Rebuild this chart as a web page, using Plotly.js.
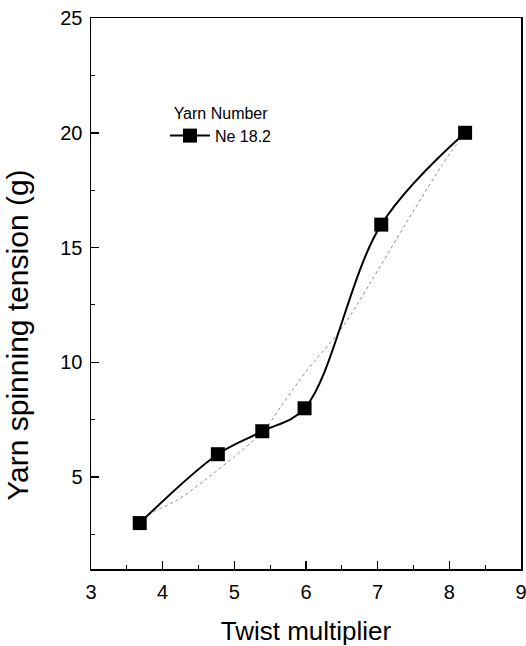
<!DOCTYPE html>
<html>
<head>
<meta charset="utf-8">
<script src="https://cdn.plot.ly/plotly-3.0.1.min.js"></script>
<style>html,body{margin:0;padding:0;background:#fff;}</style>
</head>
<body>
<div id="chart" style="width:526px;height:646px;"></div>
<script>
// Measured data (Ne 18.2)
const twistMultiplier = [3.68, 4.77, 5.39, 5.98, 7.05, 8.22];
const spinningTension = [3.0, 6.0, 7.0, 8.0, 16.0, 20.0];

// Dotted fitted curve
const fitX = [3.8, 4.2, 4.6, 5.0, 5.4, 5.7, 6.0, 6.5, 7.0, 7.5, 7.9, 8.1];
const fitY = [3.4, 4.0, 4.9, 5.9, 7.0, 8.3, 9.6, 11.5, 14.0, 16.6, 18.6, 19.5];

const seriesName = 'Ne 18.2';
const legendTitle = 'Yarn Number';
const xTitle = 'Twist multiplier';
const yTitle = 'Yarn spinning tension (g)';
const xTicks = [3, 4, 5, 6, 7, 8, 9];
const yTicks = [5, 10, 15, 20, 25];

const font = 'Liberation Sans, Arial, sans-serif';

const traces = [
  {
    x: fitX, y: fitY, mode: 'lines', showlegend: false, hoverinfo: 'skip',
    line: {color: '#8a8a8a', width: 1, dash: 'dot', shape: 'spline'}
  },
  {
    x: twistMultiplier, y: spinningTension, name: seriesName,
    mode: 'lines+markers',
    line: {color: '#000', width: 2, shape: 'spline', smoothing: 1},
    marker: {symbol: 'square', size: 14, color: '#000'}
  }
];

const axisCommon = {
  showgrid: false, zeroline: false, showline: true, mirror: true,
  linecolor: '#000', linewidth: 1.5,
  ticks: 'inside', ticklen: 8, tickwidth: 1.5, tickcolor: '#000',
  tickfont: {family: font, size: 20, color: '#000'},
  ticklabeloverflow: 'allow'
};

const layout = {
  width: 526, height: 646,
  margin: {l: 91, r: 5, t: 18, b: 77},
  paper_bgcolor: '#fff', plot_bgcolor: '#fff',
  font: {family: font, color: '#000'},
  xaxis: Object.assign({}, axisCommon, {
    range: [3, 9], tickvals: xTicks, ticklabelstandoff: 4,
    minor: {ticks: 'inside', ticklen: 4, tickwidth: 1, tickcolor: '#000', dtick: 0.5, tick0: 3},
    title: {text: xTitle, font: {family: font, size: 26, color: '#000'}, standoff: 20}
  }),
  yaxis: Object.assign({}, axisCommon, {
    range: [1, 25], tickvals: yTicks, ticklabelstandoff: 3,
    minor: {ticks: 'inside', ticklen: 4, tickwidth: 1, tickcolor: '#000', dtick: 2.5, tick0: 0}
  }),
  annotations: [{
    text: yTitle, textangle: -90, showarrow: false,
    xref: 'paper', yref: 'paper', x: -0.17, y: 0.425,
    xanchor: 'center', yanchor: 'middle',
    font: {family: font, size: 30, color: '#000'}
  }],
  showlegend: true,
  legend: {
    x: 0.172, y: 0.855, xanchor: 'left', yanchor: 'top',
    bgcolor: 'rgba(0,0,0,0)', borderwidth: 0,
    font: {family: font, size: 16, color: '#000'},
    title: {text: legendTitle, font: {family: font, size: 16, color: '#000'}, side: 'top center'},
    itemwidth: 40
  }
};

Plotly.newPlot('chart', traces, layout, {displayModeBar: false, staticPlot: true});
</script>
</body>
</html>
